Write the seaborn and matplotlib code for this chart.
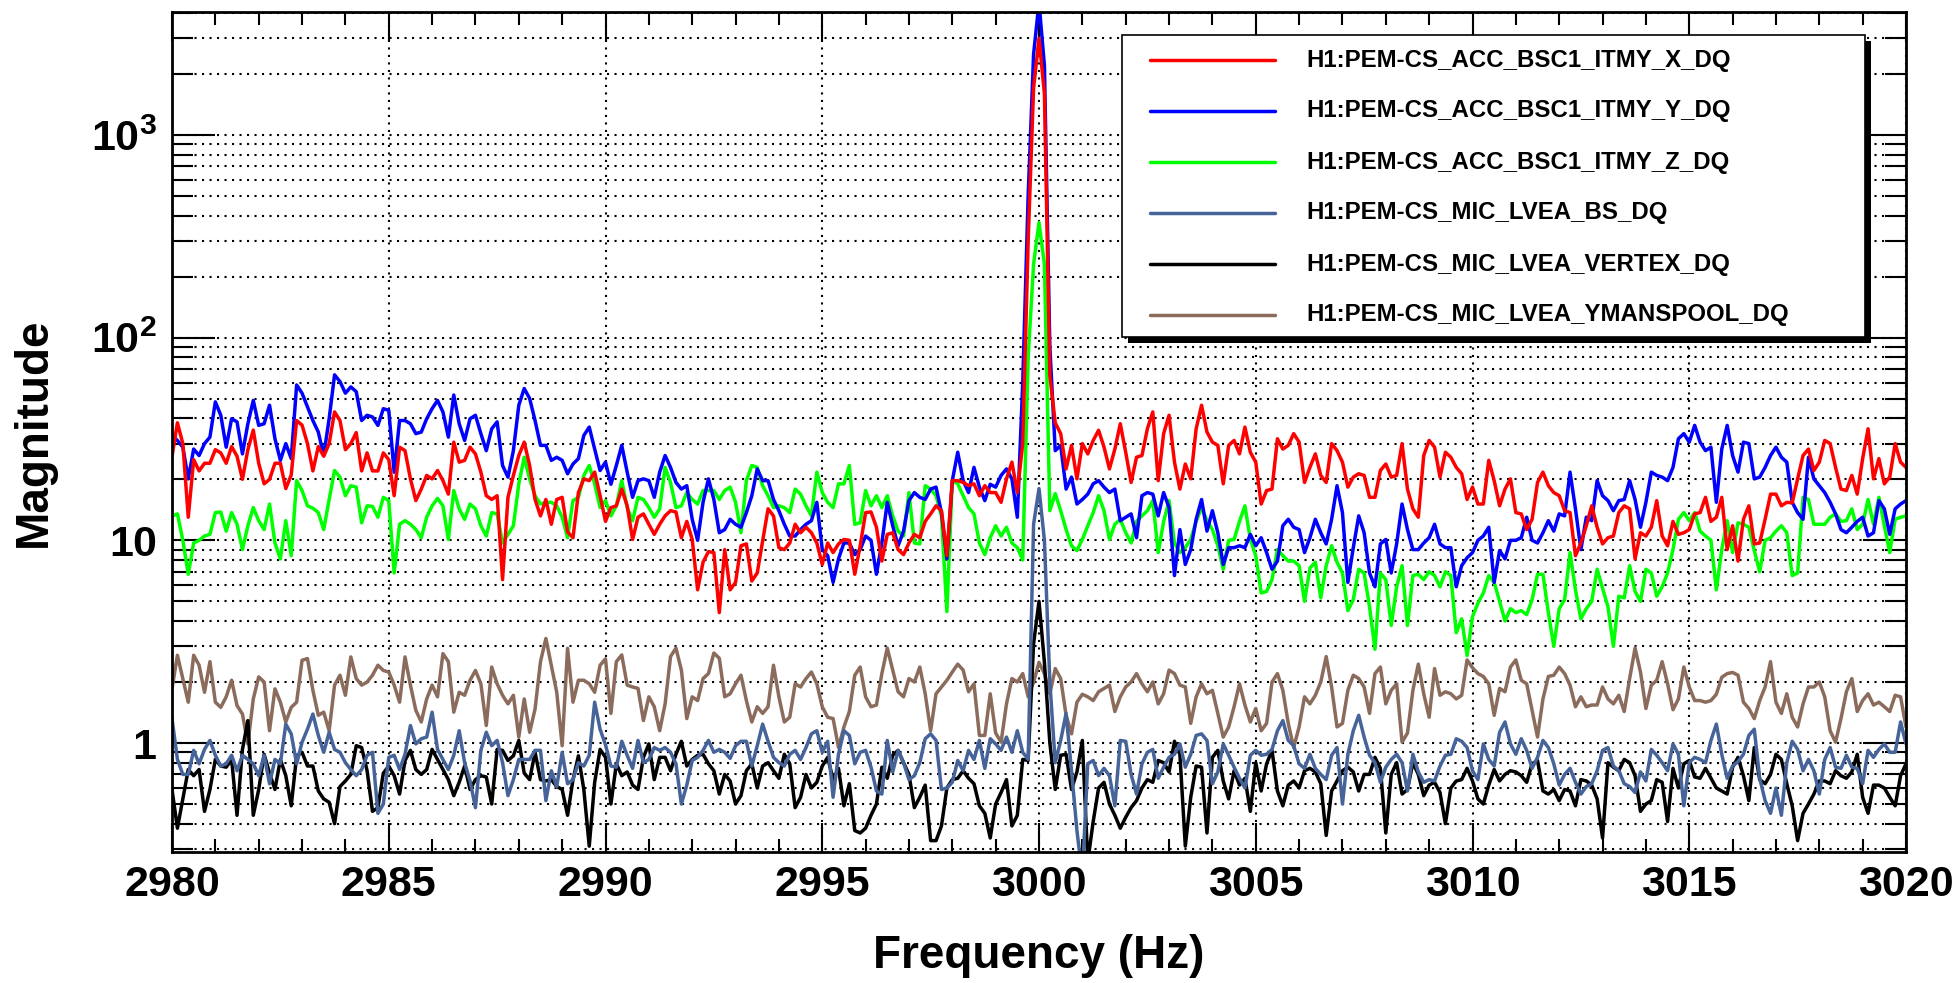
import numpy as np
import pandas as pd
import matplotlib
matplotlib.use("Agg")
import matplotlib.pyplot as plt
import matplotlib.ticker as mticker
from matplotlib.lines import Line2D
from matplotlib.patches import Rectangle
import seaborn as sns

# frequency grid: 2980 .. 3020 Hz in 0.125 Hz bins (8 bins per Hz, one row per Hz below)
f_start, f_stop, n_bins = 2980.0, 3020.0, 321

channels = ["H1:PEM-CS_ACC_BSC1_ITMY_X_DQ",
            "H1:PEM-CS_ACC_BSC1_ITMY_Y_DQ",
            "H1:PEM-CS_ACC_BSC1_ITMY_Z_DQ",
            "H1:PEM-CS_MIC_LVEA_BS_DQ",
            "H1:PEM-CS_MIC_LVEA_VERTEX_DQ",
            "H1:PEM-CS_MIC_LVEA_YMANSPOOL_DQ"]
colors = ["#ff0000", "#0000ff", "#00ff00", "#46649a", "#000000", "#8b6b5c"]

acc_x = [
    26, 38, 30, 13, 25, 22, 24, 24,
    28, 27, 24, 29, 26, 20, 28, 35,
    24, 19, 20, 24, 24, 18, 21, 39,
    37, 30, 22, 29, 26, 30, 43, 39,
    28, 30, 34, 22, 27, 22, 22, 27,
    25, 16.6, 28.8, 27.7, 20.1, 15.7, 17.9, 20.9,
    20.1, 22.1, 19.7, 16.9, 30.5, 24.3, 24.8, 28.8,
    26.7, 21.7, 16.6, 15.9, 16.6, 6.4, 16.3, 20.9,
    26.2, 30.5, 23.4, 15.9, 13.2, 15.9, 12.0, 15.9,
    16.3, 11.0, 10.3, 17.2, 20.1, 19.7, 21.7, 16.6,
    12.4, 14.5, 14.8, 17.9, 14.8, 10.1, 13.0, 13.5,
    12.0, 10.7, 12.0, 13.2, 14.0, 13.8, 10.3, 12.4,
    10.1, 5.7, 7.8, 8.8, 8.7, 4.4, 9.0, 5.7,
    6.2, 9.4, 9.6, 6.3, 6.9, 9.9, 14.3, 13.2,
    9.2, 9.0, 9.7, 12.0, 10.9, 11.6, 10.9, 9.7,
    7.6, 9.7, 8.7, 9.6, 10.1, 10.0, 6.8, 9.4,
    13.7, 13.8, 11.6, 7.9, 10.7, 10.9, 9.0, 8.5,
    9.7, 10.7, 10.3, 12.4, 13.5, 14.8, 14.0, 8.4,
    19.7, 19.7, 19.3, 18.6, 19.0, 16.6, 18.6, 17.2,
    17.2, 15.4, 20.1, 24.3, 17.2, 30, 300, 1700,
    3000, 1600, 65, 38, 33.6, 22.5, 29.4, 20.1,
    30.0, 26.7, 31.1, 34.9, 28.8, 22.5, 28.2, 37.6,
    27.2, 19.3, 25.7, 26.2, 35.5, 43, 19.7, 33.6,
    41.4, 24.3, 17.9, 23.8, 20.1, 35.5, 46.4, 34.2,
    30.5, 29.4, 19.0, 29.4, 31.1, 26.7, 36.2, 27.2,
    24.3, 15.1, 17.6, 17.9, 31.7, 28.2, 29.4, 33.6,
    30.5, 19.3, 22.9, 26.7, 20.9, 19.3, 30.0, 27.7,
    24.3, 18.3, 20.5, 21.3, 20.9, 16.3, 16.3, 22.1,
    23.8, 20.5, 20.9, 30.0, 17.9, 14.3, 13.0, 26.2,
    31.1, 28.8, 20.5, 27.2, 25.7, 22.9, 21.3, 15.9,
    18.3, 15.1, 15.1, 24.8, 19.7, 14.8, 17.9, 20.1,
    13.7, 13.5, 11.3, 12.7, 19.3, 21.7, 18.6, 17.2,
    16.6, 14.0, 13.7, 8.4, 9.7, 11.8, 14.8, 11.6,
    9.6, 10.3, 10.5, 13.7, 14.8, 14.3, 8.1, 10.9,
    10.5, 11.6, 15.7, 10.5, 9.4, 12.4, 10.7, 10.9,
    11.3, 13.5, 13.7, 16.3, 12.4, 13.0, 16.3, 9.0,
    11.8, 7.9, 12.7, 14.8, 9.6, 9.7, 12.7, 16.9,
    16.9, 14.8, 15.4, 15.3, 20.1, 26.2, 28.2, 22.1,
    24.3, 31.1, 30.0, 22.9, 17.9, 17.6, 20.9, 16.9,
    25.3, 35.5, 20.1, 25.3, 19.0, 20.5, 30.0, 24.3,
    22.9]

acc_y = [
    32.9, 31.1, 28.8, 20.1, 28.2, 26.2, 30, 32.3,
    48.2, 41.4, 28.8, 39.8, 38.4, 26.7, 37.6, 49,
    36.9, 37.6, 46.4, 31.7, 24.8, 30, 25.3, 58.4,
    53.2, 45.5, 39, 34.2, 26.2, 39.8, 65.5, 60.7,
    53.2, 57.1, 54.1, 39, 41.4, 40.6, 36.9, 44.6,
    43.8, 21.7, 39, 39, 37.6, 33.6, 34.2, 39.8,
    44.6, 49, 43, 32.3, 52.1, 37.6, 31.1, 39.8,
    41.4, 33.6, 27.7, 35.5, 38.4, 23.4, 20.5, 27.7,
    46.4, 56.1, 50.1, 39, 29.4, 29.4, 24.8, 25.7,
    24.8, 21.3, 23.8, 25.3, 32.9, 36.2, 28.2, 22.1,
    24.3, 18.9, 23.4, 29.4, 21.7, 16.3, 19.7, 20.1,
    19.7, 16.3, 21.7, 26.2, 22.9, 19.3, 17.9, 18.6,
    12.7, 10.0, 15.4, 20.1, 15.9, 10.9, 11.3, 12.7,
    12.0, 11.6, 13.7, 16.6, 22.5, 19.7, 19.7, 15.9,
    14.0, 12.0, 10.5, 10.5, 11.3, 12.0, 12.5, 15.4,
    9.0, 8.4, 6.2, 8.1, 9.7, 9.7, 8.5, 9.0,
    10.5, 10.0, 6.8, 9.7, 15.4, 11.8, 9.4, 11.1,
    15.7, 17.2, 16.3, 15.9, 17.9, 18.3, 13.7, 8.1,
    19.7, 27.2, 19.7, 17.2, 22.9, 18.3, 15.7, 18.9,
    18.3, 20.9, 22.5, 20.1, 13, 60, 500, 2500,
    4500, 2200, 90, 27.7, 29.4, 17.9, 20.5, 15.1,
    15.9, 16.9, 19.0, 19.7, 18.3, 17.2, 17.9, 12.5,
    13.0, 13.5, 10.3, 16.6, 17.2, 16.9, 13.2, 17.2,
    14.5, 6.7, 11.3, 7.6, 9.0, 12.7, 15.9, 11.1,
    14.0, 10.9, 7.6, 9.2, 9.2, 9.4, 9.2, 10.7,
    9.4, 10.3, 8.7, 7.2, 7.9, 11.8, 12.7, 11.6,
    11.3, 8.7, 10.3, 12.7, 10.9, 9.6, 12.7, 18.6,
    13.7, 6.2, 9.2, 13.2, 10.9, 6.9, 5.9, 9.6,
    10.1, 6.9, 9.6, 15.1, 11.3, 9.0, 9.0, 9.7,
    10.3, 12.0, 9.6, 9.2, 9.2, 5.9, 7.5, 8.2,
    8.7, 10.0, 10.5, 11.6, 6.2, 8.9, 8.1, 10.0,
    10.0, 10.3, 13.0, 10.0, 9.7, 10.9, 12.5, 11.1,
    13.5, 13.2, 21.7, 14.3, 9.0, 13.0, 12.5, 19.7,
    16.6, 15.7, 14.0, 15.7, 15.9, 19.7, 15.9, 11.6,
    15.4, 21.7, 20.9, 20.5, 19.7, 22.9, 31.7, 33.6,
    30.5, 36.9, 30.5, 27.7, 28.8, 15.4, 28.2, 36.9,
    26.2, 21.7, 30.5, 30.0, 20.1, 20.5, 22.9, 26.2,
    28.8, 25.7, 24.3, 15.4, 13.7, 12.7, 25.7, 20.1,
    18.6, 17.2, 15.4, 13.5, 11.3, 10.9, 11.6, 12.4,
    13.0, 10.5, 10.9, 15.7, 14.3, 10.7, 14.3, 15.1,
    15.7]

acc_z = [
    13.2, 13.5, 10.0, 6.8, 9.7, 10.0, 10.5, 10.7,
    13.7, 13.8, 11.1, 13.7, 12.0, 9.0, 11.8, 14.5,
    12.5, 11.3, 15.1, 9.7, 8.1, 12.5, 8.4, 19.7,
    17.6, 14.8, 14.4, 13.7, 11.3, 15.9, 22.1, 20.5,
    16.6, 18.6, 18.3, 12.2, 14.8, 14.7, 13.0, 16.3,
    15.7, 6.9, 12.0, 12.5, 12.0, 11.3, 10.3, 13.0,
    14.8, 16.1, 14.8, 10.1, 17.6, 14.3, 12.7, 15.1,
    14.3, 11.8, 10.5, 13.7, 13.5, 9.7, 10.7, 11.8,
    19.0, 25.7, 20.1, 16.6, 15.1, 15.4, 15.4, 14.8,
    13.0, 10.3, 15.7, 16.3, 20.9, 23.4, 19.0, 14.5,
    15.7, 13.2, 14.8, 19.7, 14.5, 12.5, 16.3, 15.9,
    14.5, 13.0, 14.3, 22.9, 19.3, 14.5, 14.8, 17.2,
    15.9, 15.1, 17.6, 17.6, 17.6, 15.9, 17.6, 18.3,
    15.4, 10.9, 19.7, 23.4, 22.9, 18.6, 16.6, 14.5,
    14.8, 14.5, 13.7, 17.9, 16.9, 14.8, 13.2, 21.7,
    17.2, 15.4, 14.5, 19.0, 19.0, 23.4, 12.0, 12.2,
    17.6, 14.8, 16.6, 14.5, 16.6, 13.2, 11.1, 10.5,
    17.2, 9.7, 9.6, 18.6, 17.9, 16.6, 13.2, 4.45,
    19.7, 19.0, 16.6, 14.5, 13.5, 9.7, 8.5, 10.3,
    11.8, 10.5, 11.6, 9.7, 9.2, 8, 80, 230,
    370, 230, 14, 17, 14.0, 11.3, 9.4, 8.9,
    10.1, 11.8, 13.7, 16.6, 14.0, 10.1, 12.0, 12.7,
    10.9, 9.7, 12.4, 13.2, 14.0, 15.7, 8.7, 12.4,
    15.7, 9.7, 8.7, 9.2, 10.1, 12.4, 14.5, 12.5,
    11.3, 9.4, 7.2, 10.0, 10.1, 12.4, 14.8, 10.1,
    8.4, 5.5, 5.6, 6.4, 9.0, 8.4, 7.9, 7.9,
    7.5, 5.0, 7.3, 7.8, 5.2, 7.5, 9.4, 7.8,
    6.9, 4.5, 5.1, 7.2, 6.9, 4.7, 2.9, 6.9,
    6.4, 3.8, 5.9, 7.5, 3.8, 6.7, 6.8, 6.4,
    7.0, 6.7, 5.9, 7.0, 6.7, 3.5, 4.1, 2.7,
    4.2, 4.9, 5.5, 6.7, 6.2, 5.0, 4.0, 4.6,
    4.4, 4.5, 4.3, 5.1, 6.8, 6.8, 4.4, 3.0,
    4.6, 5.1, 8.7, 5.7, 4.1, 4.6, 5.0, 7.2,
    5.8, 4.7, 3.0, 5.3, 5.2, 7.5, 5.6, 5.0,
    7.2, 6.9, 5.3, 5.9, 6.9, 9.0, 12.7, 13.7,
    12.5, 13.7, 11.1, 10.5, 10.0, 5.7, 9.0, 12.5,
    8.7, 12.2, 12.0, 11.6, 8.9, 7.0, 10.0, 10.3,
    11.1, 11.8, 10.9, 6.7, 6.9, 16.3, 15.9, 12.0,
    12.0, 12.0, 13.0, 13.5, 12.4, 12.5, 14.3, 11.3,
    12.0, 15.9, 12.0, 16.3, 11.8, 8.7, 12.7, 13.0,
    13.2]

mic_bs = [
    1.32, 0.83, 0.70, 0.70, 0.92, 0.79, 0.93, 1.03,
    0.87, 0.77, 0.79, 0.87, 0.73, 0.87, 0.83, 0.79,
    0.69, 0.87, 0.63, 0.83, 0.79, 1.24, 1.11, 0.79,
    1.01, 1.17, 1.39, 1.09, 0.90, 1.13, 0.93, 0.90,
    0.80, 0.74, 0.69, 0.74, 0.87, 0.90, 0.45, 0.50,
    0.85, 0.87, 0.74, 0.88, 1.22, 0.99, 1.05, 1.07,
    1.42, 0.93, 0.83, 0.74, 0.87, 1.15, 0.80, 0.65,
    0.48, 0.92, 1.13, 0.97, 1.03, 0.80, 0.55, 0.66,
    0.83, 0.83, 0.83, 0.92, 0.92, 0.52, 0.73, 0.61,
    0.90, 0.63, 0.66, 0.80, 0.77, 0.87, 1.59, 1.17,
    0.98, 0.77, 0.76, 1.02, 0.87, 0.75, 1.03, 0.80,
    0.83, 0.95, 0.92, 0.95, 0.90, 0.79, 0.50, 0.62,
    0.82, 0.85, 0.92, 1.03, 0.90, 0.93, 0.90, 0.84,
    0.97, 1.02, 1.02, 0.77, 0.97, 1.24, 1.02, 0.85,
    0.80, 0.77, 0.88, 0.92, 0.83, 0.95, 1.11, 1.15,
    0.90, 1.02, 0.54, 0.88, 1.15, 1.09, 0.79, 0.90,
    0.92, 0.76, 0.58, 0.56, 1.03, 0.72, 0.92, 0.80,
    0.66, 0.69, 0.80, 1.05, 1.11, 1.03, 0.59, 0.60,
    0.64, 0.82, 0.73, 0.92, 0.83, 1.03, 0.75, 1.05,
    0.99, 0.92, 1.07, 0.90, 1.15, 0.90, 0.83, 12,
    18, 10, 2.0, 0.80, 1.03, 1.40, 0.73, 0.37,
    0.22, 0.79, 0.82, 0.69, 0.75, 0.69, 0.49, 1.03,
    1.02, 0.70, 0.56, 0.79, 0.90, 0.93, 0.67, 0.76,
    0.85, 0.88, 0.99, 0.76, 0.88, 1.09, 1.11, 1.03,
    0.63, 0.72, 0.99, 0.87, 0.76, 0.67, 0.60, 0.87,
    0.92, 0.87, 0.88, 0.93, 1.15, 1.29, 1.03, 0.97,
    0.79, 0.75, 0.88, 0.75, 0.70, 0.66, 0.87, 0.95,
    0.50, 0.88, 1.15, 1.37, 1.07, 0.87, 0.80, 0.64,
    0.76, 0.83, 0.88, 0.80, 0.58, 0.88, 0.72, 0.64,
    0.66, 0.65, 0.77, 0.87, 0.88, 1.05, 1.02, 0.95,
    0.73, 0.66, 0.99, 0.83, 0.77, 1.13, 1.27, 0.99,
    0.88, 1.05, 0.92, 0.75, 0.85, 1.03, 0.95, 0.79,
    0.62, 0.70, 0.75, 0.64, 0.56, 0.61, 0.63, 0.73,
    0.92, 0.95, 0.77, 0.73, 0.63, 0.61, 0.57, 0.72,
    0.65, 0.93, 0.87, 0.80, 0.73, 0.99, 0.88, 0.49,
    0.80, 0.85, 0.83, 0.80, 1.03, 1.24, 0.88, 0.67,
    0.77, 0.81, 0.88, 1.09, 1.17, 0.67, 0.52, 0.45,
    0.60, 0.44, 0.80, 1.02, 0.93, 0.73, 0.83, 0.73,
    0.56, 0.83, 0.95, 0.76, 0.75, 0.87, 0.76, 0.75,
    0.63, 0.92, 0.85, 0.93, 0.99, 0.90, 0.90, 1.27,
    0.99]

mic_vertex = [
    0.59, 0.38, 0.53, 0.74, 0.69, 0.74, 0.46, 0.59,
    0.83, 0.77, 0.76, 0.83, 0.44, 0.93, 1.29, 0.44,
    0.59, 0.88, 0.71, 0.59, 0.83, 0.69, 0.49, 0.865,
    0.90, 0.77, 0.77, 0.58, 0.53, 0.51, 0.40, 0.61,
    0.65, 0.70, 0.97, 0.95, 0.73, 0.46, 0.48, 0.71,
    0.77, 0.69, 0.56, 0.82, 0.92, 0.74, 0.70, 0.74,
    0.93, 0.83, 0.74, 0.66, 0.55, 0.64, 0.77, 0.59,
    0.66, 0.69, 0.68, 0.50, 0.93, 0.92, 0.82, 0.865,
    1.03, 0.71, 0.66, 0.90, 0.66, 0.65, 0.66, 0.61,
    0.59, 0.44, 0.66, 0.865, 0.59, 0.31, 0.64, 0.93,
    0.85, 0.50, 0.79, 0.69, 0.72, 0.62, 0.59, 0.85,
    0.99, 0.66, 0.85, 0.85, 0.73, 0.88, 1.02, 0.77,
    0.83, 0.87, 0.88, 0.79, 0.73, 0.56, 0.70, 0.65,
    0.50, 0.55, 0.73, 0.79, 0.60, 0.77, 0.80, 0.73,
    0.67, 0.88, 0.79, 0.48, 0.54, 0.70, 0.60, 0.64,
    0.77, 0.85, 0.66, 0.75, 0.49, 0.63, 0.37, 0.36,
    0.38, 0.44, 0.50, 0.76, 0.67, 0.87, 0.92, 0.80,
    0.70, 0.48, 0.54, 0.62, 0.33, 0.33, 0.39, 0.60,
    0.66, 0.67, 0.73, 0.67, 0.63, 0.49, 0.45, 0.34,
    0.50, 0.57, 0.66, 0.39, 0.44, 0.83, 0.82, 3.1,
    5.0, 2.5, 1.0, 0.59, 0.87, 0.88, 0.59, 0.72,
    1.03, 0.26, 0.41, 0.60, 0.64, 0.50, 0.44, 0.38,
    0.43, 0.48, 0.52, 0.60, 0.66, 0.64, 0.82, 0.80,
    0.72, 1.02, 0.88, 0.31, 0.54, 0.77, 0.76, 0.36,
    0.85, 0.92, 0.65, 0.53, 0.73, 0.62, 0.67, 0.46,
    0.80, 0.58, 0.79, 0.92, 0.58, 0.49, 0.62, 0.65,
    0.60, 0.73, 0.75, 0.72, 0.63, 0.35, 0.58, 0.65,
    0.73, 0.76, 0.72, 0.58, 0.70, 0.70, 0.85, 0.75,
    0.36, 0.70, 0.80, 0.56, 0.59, 0.80, 0.70, 0.55,
    0.62, 0.64, 0.57, 0.40, 0.60, 0.65, 0.66, 0.75,
    0.65, 0.53, 0.50, 0.62, 0.74, 0.65, 0.70, 0.73,
    0.72, 0.69, 0.64, 0.79, 0.82, 0.58, 0.56, 0.59,
    0.52, 0.59, 0.58, 0.49, 0.66, 0.65, 0.62, 0.53,
    0.34, 0.80, 0.76, 0.73, 0.83, 0.80, 0.69, 0.46,
    0.50, 0.52, 0.66, 0.64, 0.41, 0.75, 0.60, 0.79,
    0.82, 0.68, 0.67, 0.75, 0.67, 0.60, 0.58, 0.56,
    0.76, 0.85, 0.69, 0.52, 0.95, 0.66, 0.63, 0.70,
    0.88, 0.83, 0.63, 0.49, 0.33, 0.45, 0.50, 0.56,
    0.65, 0.65, 0.63, 0.73, 0.69, 0.67, 0.72, 0.88,
    0.54, 0.45, 0.62, 0.62, 0.60, 0.54, 0.49, 0.69,
    0.79]

mic_ymanspool = [
    1.85, 2.71, 2.08, 1.59, 2.71, 2.42, 1.78, 2.52,
    1.59, 1.50, 1.69, 2.04, 1.53, 1.39, 0.99, 1.65,
    2.12, 2.00, 1.15, 1.85, 1.59, 1.27, 1.50, 1.59,
    2.56, 2.61, 1.82, 1.37, 1.42, 1.15, 1.93, 2.16,
    1.72, 2.66, 2.08, 1.93, 2.00, 2.16, 2.42, 2.28,
    2.24, 1.93, 1.59, 2.66, 1.93, 1.45, 1.27, 1.65,
    1.93, 1.69, 2.76, 2.52, 1.42, 1.78, 1.72, 2.04,
    2.28, 1.96, 1.22, 2.37, 1.96, 1.72, 1.56, 1.72,
    1.07, 1.65, 1.13, 1.47, 2.52, 3.28, 2.42, 1.78,
    0.97, 2.93, 1.59, 2.04, 2.04, 1.96, 1.78, 2.42,
    2.60, 1.40, 2.52, 2.72, 1.93, 1.89, 1.86, 1.29,
    1.69, 1.51, 1.15, 1.56, 2.67, 2.94, 2.29, 1.32,
    1.69, 1.62, 2.08, 2.20, 2.78, 2.62, 1.69, 1.75,
    1.96, 2.16, 1.62, 1.27, 1.51, 1.40, 1.51, 2.42,
    1.69, 1.27, 1.34, 1.96, 1.89, 2.08, 2.24, 1.96,
    1.51, 1.34, 1.32, 0.95, 1.20, 1.43, 2.16, 2.37,
    1.69, 1.51, 1.54, 2.20, 2.94, 2.29, 1.79, 1.69,
    2.08, 2.00, 2.37, 1.75, 1.15, 1.75, 1.89, 2.04,
    2.24, 2.45, 2.29, 1.79, 1.96, 1.09, 1.09, 1.75,
    1.12, 1.01, 1.56, 2.08, 2.00, 2.20, 1.69, 2.0,
    2.5, 2.2, 1.75, 2.33, 2.08, 1.37, 1.11, 1.59,
    1.74, 1.69, 1.62, 1.79, 1.86, 1.93, 1.43, 1.69,
    1.89, 2.00, 2.20, 1.96, 1.79, 2.00, 1.56, 1.75,
    2.29, 2.20, 1.93, 1.89, 1.25, 1.69, 1.96, 1.75,
    1.82, 1.40, 1.07, 1.20, 1.51, 1.96, 1.54, 1.27,
    1.48, 1.15, 1.25, 2.00, 2.20, 1.82, 1.25, 0.95,
    1.20, 1.69, 1.56, 1.72, 2.00, 2.67, 1.89, 1.20,
    1.25, 1.82, 2.16, 2.08, 1.89, 1.40, 2.20, 2.37,
    1.56, 1.82, 1.96, 1.01, 1.12, 1.82, 2.45, 1.75,
    1.34, 2.33, 1.72, 1.79, 1.75, 1.65, 1.72, 2.57,
    2.35, 2.20, 2.13, 1.96, 1.37, 1.86, 1.79, 2.37,
    2.57, 2.04, 1.96, 1.45, 1.07, 1.65, 2.13, 2.16,
    2.37, 2.20, 1.93, 1.51, 1.69, 1.51, 1.54, 1.54,
    1.89, 1.65, 1.56, 1.72, 1.43, 2.08, 2.94, 2.24,
    1.48, 1.93, 2.04, 2.52, 1.96, 1.46, 1.65, 2.37,
    1.89, 1.62, 1.62, 1.59, 1.62, 1.74, 2.11, 2.20,
    2.23, 2.16, 1.59, 1.48, 1.32, 1.62, 1.89, 2.52,
    1.59, 1.40, 1.75, 1.34, 1.20, 1.56, 1.89, 1.89,
    2.00, 1.69, 1.15, 1.01, 1.32, 1.79, 2.08, 1.43,
    1.62, 1.75, 1.54, 1.59, 1.51, 1.43, 1.72, 1.69,
    1.20]

series = [acc_x, acc_y, acc_z, mic_bs, mic_vertex, mic_ymanspool]

freq = np.linspace(f_start, f_stop, n_bins)
df = pd.concat([pd.DataFrame({"freq": freq, "mag": vals, "channel": name})
                for name, vals in zip(channels, series)], ignore_index=True)

sns.set_theme(style="white")
plt.rcParams["font.family"] = ["Liberation Sans", "DejaVu Sans"]
plt.rcParams["font.weight"] = "bold"
plt.rcParams["mathtext.fontset"] = "custom"
plt.rcParams["mathtext.rm"] = "Liberation Sans:bold"
plt.rcParams["mathtext.it"] = "Liberation Sans:bold"
plt.rcParams["mathtext.bf"] = "Liberation Sans:bold"
plt.rcParams["text.color"] = "black"
plt.rcParams["axes.labelcolor"] = "black"
plt.rcParams["xtick.color"] = "black"
plt.rcParams["ytick.color"] = "black"

W, H = 1960, 983
fig = plt.figure(figsize=(W / 100, H / 100), dpi=100)
ax = fig.add_axes([172 / W, 1 - 852 / H, (1906 - 172) / W, (852 - 12) / H])

palette = dict(zip(channels, colors))
# first channel ends up on top, like the reference
sns.lineplot(data=df, x="freq", y="mag", hue="channel", hue_order=channels[::-1],
             palette=palette, estimator=None, linewidth=2.5, legend=False, ax=ax)

ax.set_yscale("log")
ax.set_xlim(f_start, f_stop)
ax.set_ylim(0.29, 4040)

ax.xaxis.set_major_locator(mticker.MultipleLocator(5))
ax.xaxis.set_minor_locator(mticker.MultipleLocator(1))
ax.xaxis.set_major_formatter(mticker.FormatStrFormatter("%d"))
ax.yaxis.set_major_locator(mticker.LogLocator(base=10, numticks=12))
ax.yaxis.set_minor_locator(mticker.LogLocator(base=10, subs=np.arange(2, 10), numticks=12))


def ylab(v, pos):
    e = int(round(np.log10(v)))
    if e == 0:
        return "1"
    if e == 1:
        return "10"
    return r"$\mathrm{10^{%d}}$" % e


ax.yaxis.set_major_formatter(mticker.FuncFormatter(ylab))
ax.yaxis.set_minor_formatter(mticker.NullFormatter())

ax.tick_params(which="both", direction="in", bottom=True, top=True, left=True, right=True,
               width=1.5, color="black")
ax.tick_params(axis="x", which="major", length=21, labelsize=31, pad=9, labelcolor="black")
ax.tick_params(axis="x", which="minor", length=9.5)
ax.tick_params(axis="y", which="major", length=31, labelsize=31, pad=11, labelcolor="black")
ax.tick_params(axis="y", which="minor", length=15)

dots = (0, (1, 2.6))
ax.grid(True, which="major", axis="x", color="black", linestyle=dots, linewidth=1.5)
ax.grid(True, which="both", axis="y", color="black", linestyle=dots, linewidth=1.5)
ax.set_axisbelow(True)

for sp in ax.spines.values():
    sp.set_linewidth(2.0)
    sp.set_color("black")

ax.set_xlabel("Frequency (Hz)", fontsize=33, fontweight="bold", color="black")
ax.set_ylabel("Magnitude", fontsize=33, fontweight="bold", color="black")
ax.xaxis.label.set_va("center")
ax.yaxis.label.set_va("center")
ax.xaxis.set_label_coords(0.5, (852 - 956) / 840)
ax.yaxis.set_label_coords((34 - 172) / 1734, 0.5)

# ROOT style legend box with a solid drop shadow
bx0, by0, bx1, by1 = 1122, 35, 1865, 337
fig.add_artist(Rectangle(((bx0 + 6) / W, 1 - (by1 + 6) / H), (bx1 - bx0) / W, (by1 - by0) / H,
                         transform=fig.transFigure, facecolor="black", edgecolor="none", zorder=4))
fig.add_artist(Rectangle((bx0 / W, 1 - by1 / H), (bx1 - bx0) / W, (by1 - by0) / H,
                         transform=fig.transFigure, facecolor="white", edgecolor="black",
                         linewidth=1.2, zorder=5))
for i, (name, c) in enumerate(zip(channels, colors)):
    yy = 1 - (60 + 51 * i) / H
    fig.add_artist(Line2D([1150 / W, 1275 / W], [yy, yy], transform=fig.transFigure,
                          color=c, linewidth=2.5, zorder=6))
    fig.text(1306 / W, yy, name, fontsize=17.3, fontweight="bold", va="center", ha="left",
             color="black", zorder=6)

fig.savefig("out.png", dpi=100)
